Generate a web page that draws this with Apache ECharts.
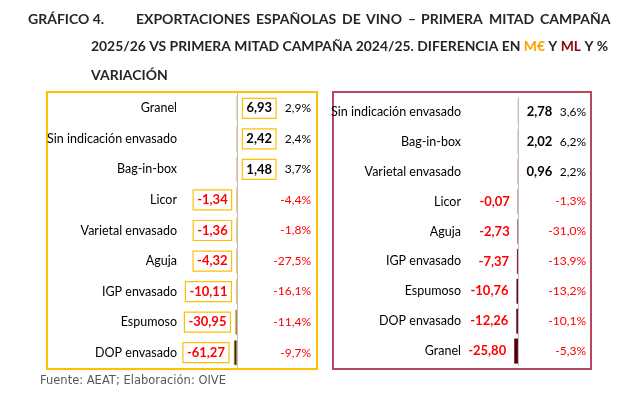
<!DOCTYPE html>
<html>
<head>
<meta charset="utf-8">
<script src="https://cdn.jsdelivr.net/npm/echarts@6/dist/echarts.min.js"></script>
<style>
  html, body { margin: 0; padding: 0; background: #fff; }
  #main { width: 618px; height: 398px; }
</style>
</head>
<body>
<div id="main"></div>
<script>
// panel izquierdo: diferencia en M€
var catsEur = ['Granel', 'Sin indicación envasado', 'Bag-in-box', 'Licor', 'Varietal envasado', 'Aguja', 'IGP envasado', 'Espumoso', 'DOP envasado'];
var valsEur = [6.93, 2.42, 1.48, -1.34, -1.36, -4.32, -10.11, -30.95, -61.27];
var pctEur = [2.9, 2.4, 3.7, -4.4, -1.8, -27.5, -16.1, -11.4, -9.7];

// panel derecho: diferencia en ML
var catsLit = ['Sin indicación envasado', 'Bag-in-box', 'Varietal envasado', 'Licor', 'Aguja', 'IGP envasado', 'Espumoso', 'DOP envasado', 'Granel'];
var valsLit = [2.78, 2.02, 0.96, -0.07, -2.73, -7.37, -10.76, -12.26, -25.80];
var pctLit = [3.6, 6.2, 2.2, -1.3, -31.0, -13.9, -13.2, -10.1, -5.3];

var FONT = 'Lato';
var TFONT = 'bold 14px ' + FONT;

function coma(v, d) { return v.toFixed(d).replace('.', ','); }

function barData(vals) {
    return vals.map(function (v) {
        return {
            value: v,
            label: { position: v < 0 ? 'left' : 'right', color: v < 0 ? '#ff0000' : '#000000' }
        };
    });
}

function catAxis(idx, cats) {
    return {
        type: 'category', gridIndex: idx, data: cats, inverse: true,
        axisLine: { show: false, onZero: false }, axisTick: { show: false },
        axisLabel: { color: '#000', fontFamily: FONT, fontSize: 12.5, margin: 3 }
    };
}

function pctAxis(idx, cats, pct, off) {
    return {
        type: 'category', gridIndex: idx, data: cats, inverse: true,
        position: 'right', offset: off,
        axisLine: { show: false }, axisTick: { show: false },
        axisLabel: {
            fontFamily: FONT, fontSize: 12, margin: 0, align: 'right',
            formatter: function (val, i) { return coma(pct[i], 1) + '%'; },
            color: function (val, i) { return pct[i] < 0 ? '#ff0000' : '#000'; }
        }
    };
}

var zeroLine = {
    silent: true, symbol: 'none', label: { show: false },
    lineStyle: { color: '#bfbfbf', width: 1, type: 'solid' },
    data: [{ xAxis: 0 }]
};

// primera línea del título justificada entre x=136 y x=610
function justified(text, x0, x1, y) {
    var ctx = document.createElement('canvas').getContext('2d');
    ctx.font = TFONT;
    var words = text.split(' ');
    var total = 0;
    words.forEach(function (w) { total += ctx.measureText(w).width; });
    var gap = (x1 - x0 - total) / (words.length - 1);
    var out = [], x = x0;
    words.forEach(function (w) {
        out.push({ type: 'text', left: Math.round(x), top: y, style: { text: w, fill: '#262626', font: TFONT } });
        x += ctx.measureText(w).width + gap;
    });
    return out;
}

var myChart = echarts.init(document.getElementById('main'));

var option = {
    animation: false,
    backgroundColor: '#fff',
    grid: [
        { left: 180, top: 93, width: 100, height: 275 },
        { left: 464, top: 97, width: 96, height: 269 }
    ],
    xAxis: [
        { type: 'value', gridIndex: 0, min: -1140, max: 860, show: false },
        { type: 'value', gridIndex: 1, min: -350, max: 270, show: false }
    ],
    yAxis: [
        catAxis(0, catsEur),
        catAxis(1, catsLit),
        pctAxis(0, catsEur, pctEur, 31),
        pctAxis(1, catsLit, pctLit, 26)
    ],
    series: [
        {
            type: 'bar', xAxisIndex: 0, yAxisIndex: 0, barWidth: 25,
            data: barData(valsEur),
            itemStyle: { color: '#3a2608', borderColor: '#d9a520', borderWidth: 0.6 },
            label: {
                show: true, fontFamily: FONT, fontSize: 13, fontWeight: 'bold',
                distance: 5, padding: [4, 4, 3, 4],
                borderColor: '#ffc000', borderWidth: 1.2,
                formatter: function (p) { return coma(p.value, 2); }
            },
            markLine: zeroLine
        },
        {
            type: 'bar', xAxisIndex: 1, yAxisIndex: 1, barWidth: 25,
            data: barData(valsLit),
            itemStyle: { color: '#4a000e', borderColor: '#7a0018', borderWidth: 0.6 },
            label: {
                show: true, fontFamily: FONT, fontSize: 13, fontWeight: 'bold',
                distance: 8,
                formatter: function (p) { return coma(p.value, 2); }
            },
            markLine: zeroLine
        }
    ],
    graphic: [
        { type: 'rect', shape: { x: 47, y: 92, width: 270, height: 277 },
          style: { fill: 'none', stroke: '#ffc000', lineWidth: 2 } },
        { type: 'rect', shape: { x: 333, y: 92, width: 258, height: 277 },
          style: { fill: 'none', stroke: '#b5485f', lineWidth: 2 } },
        { type: 'text', left: 28, top: 12,
          style: { text: 'GRÁFICO 4.', fill: '#262626', font: TFONT } },
        { type: 'text', left: 91, top: 40,
          style: {
              text: '2025/26 VS PRIMERA MITAD CAMPAÑA 2024/25. DIFERENCIA EN {e|M€} Y {l|ML} Y %',
              fill: '#262626', font: 'bold 13.9px ' + FONT,
              rich: {
                  e: { fill: '#ffa200', font: 'bold 13.9px ' + FONT },
                  l: { fill: '#8b0a0a', font: 'bold 13.9px ' + FONT }
              }
          } },
        { type: 'text', left: 91, top: 68,
          style: { text: 'VARIACIÓN', fill: '#262626', font: TFONT } },
        { type: 'text', left: 40, top: 375,
          style: { text: 'Fuente: AEAT; Elaboración: OIVE', fill: '#595959', font: '11.5px "DejaVu Sans"' } }
    ].concat(justified('EXPORTACIONES ESPAÑOLAS DE VINO – PRIMERA MITAD CAMPAÑA', 136, 610, 12))
};

myChart.setOption(option);
</script>
</body>
</html>
